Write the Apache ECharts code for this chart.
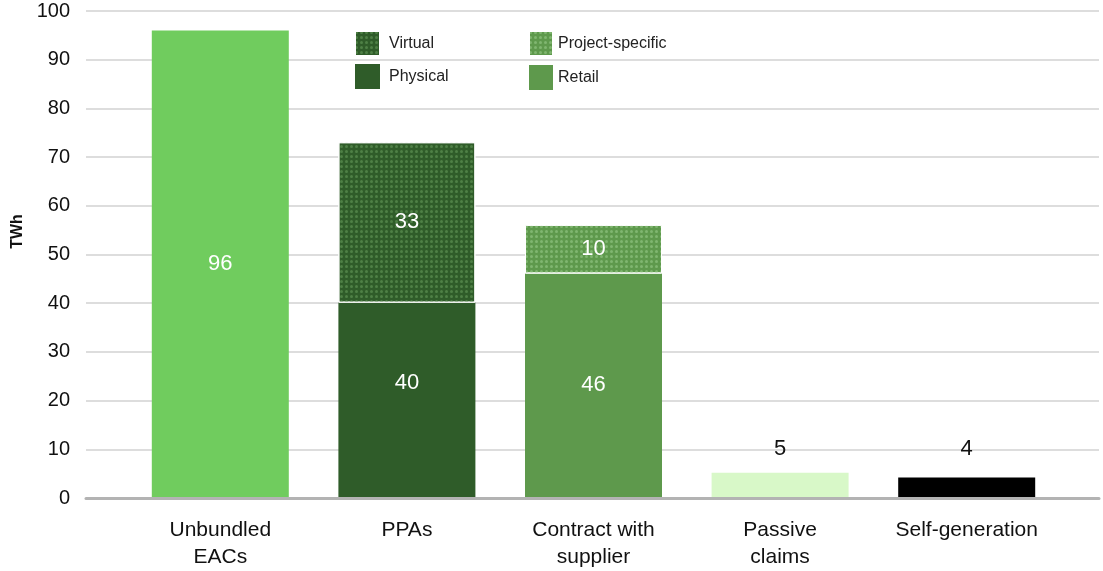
<!DOCTYPE html>
<html>
<head>
<meta charset="utf-8">
<script src="https://cdn.jsdelivr.net/npm/echarts@6/dist/echarts.min.js"></script>
<style>
  html, body { margin: 0; padding: 0; background: #fff; }
  #chart { width: 1103px; height: 571px; }
</style>
</head>
<body>
<div id="chart"></div>
<script>
// Categories and values (TWh)
const categories = ['Unbundled\nEACs', 'PPAs', 'Contract with\nsupplier', 'Passive\nclaims', 'Self-generation'];
const singleValues = [96, '-', '-', 5, 4];
const physical = ['-', 40, '-', '-', '-'];
const virtualPPA = ['-', 33, '-', '-', '-'];
const retail = ['-', '-', 46, '-', '-'];
const projectSpecific = ['-', '-', 10, '-', '-'];
const yTicks = { min: 0, max: 100, interval: 10 };

const FONT = '"Liberation Sans", Arial, sans-serif';
const singleColors = ['#70cc5e', null, null, '#d8f8c8', '#000000'];

// dotted fill used for the Virtual and Project-specific segments
const dots = (color) => ({
  symbol: 'circle',
  symbolSize: 1,
  color: color,
  dashArrayX: [3, 2],
  dashArrayY: [3, 2],
  rotation: 0
});

const insideLabel = {
  show: true,
  position: 'inside',
  color: '#ffffff',
  fontFamily: FONT,
  fontSize: 22
};

const singleData = singleValues.map((v, i) => {
  if (v === '-') return v;
  const item = { value: v, itemStyle: { color: singleColors[i] } };
  if (i === 0) {
    item.label = Object.assign({}, insideLabel);
  } else {
    item.label = {
      show: true, position: 'top', color: '#111', fontFamily: FONT, fontSize: 22,
      distance: i === 3 ? 13 : 18
    };
  }
  return item;
});

const chart = echarts.init(document.getElementById('chart'), null, { renderer: 'canvas' });

const legendText = { fontFamily: FONT, fontSize: 16, color: '#222' };

chart.setOption({
  animation: false,
  backgroundColor: '#ffffff',
  grid: [
    { left: 86, right: 4, top: 11, bottom: 73 },
    { left: 127, right: 43, top: 11, bottom: 73 }
  ],
  legend: [
    {
      left: 354, top: 30, orient: 'vertical', padding: 0,
      icon: 'rect', itemWidth: 25, itemHeight: 25, itemGap: 7,
      selectedMode: false,
      data: [
        { name: 'Virtual' },
        { name: 'Physical', textStyle: { padding: [12, 0, 0, 4] } }
      ],
      textStyle: Object.assign({ padding: [0, 0, 0, 4] }, legendText)
    },
    {
      left: 528, top: 30, orient: 'vertical', padding: 0,
      icon: 'rect', itemWidth: 24, itemHeight: 25, itemGap: 8,
      selectedMode: false,
      data: ['Project-specific', 'Retail'],
      textStyle: legendText
    }
  ],
  xAxis: [
    {
      gridIndex: 0, type: 'value', min: 0, max: 1,
      axisLine: { show: true, onZero: true, lineStyle: { color: '#b3b3b3', width: 3 } },
      axisTick: { show: false }, axisLabel: { show: false }, splitLine: { show: false }
    },
    {
      gridIndex: 1, type: 'category', data: categories,
      axisLine: { show: false }, axisTick: { show: false },
      axisLabel: {
        color: '#111', fontFamily: FONT, fontSize: 21, lineHeight: 27, margin: 20,
        interval: 0
      }
    }
  ],
  yAxis: [
    {
      gridIndex: 0, type: 'value', min: yTicks.min, max: yTicks.max, interval: yTicks.interval,
      name: 'TWh', nameLocation: 'middle', nameGap: 48,
      nameTextStyle: {
        fontFamily: FONT, fontSize: 16, fontWeight: 'bold', color: '#111',
        padding: [0, 0, 0, 46]
      },
      axisLine: { show: false }, axisTick: { show: false },
      axisLabel: { color: '#111', fontFamily: FONT, fontSize: 20, margin: 16 },
      splitLine: { lineStyle: { color: '#dddddd', width: 2 } }
    },
    {
      gridIndex: 1, type: 'value', min: yTicks.min, max: yTicks.max, interval: yTicks.interval,
      show: false, splitLine: { show: false }
    }
  ],
  series: [
    {
      name: 'Total', type: 'bar', stack: 'a', xAxisIndex: 1, yAxisIndex: 1,
      barWidth: 137, data: singleData
    },
    {
      name: 'Physical', type: 'bar', stack: 'a', xAxisIndex: 1, yAxisIndex: 1,
      barWidth: 137, data: physical,
      itemStyle: { color: '#2f5c29' },
      label: Object.assign({}, insideLabel, { offset: [0, -17] })
    },
    {
      name: 'Retail', type: 'bar', stack: 'a', xAxisIndex: 1, yAxisIndex: 1,
      barWidth: 137, data: retail,
      itemStyle: { color: '#5e994c' },
      label: insideLabel
    },
    {
      name: 'Virtual', type: 'bar', stack: 'a', xAxisIndex: 1, yAxisIndex: 1,
      barWidth: 137, data: virtualPPA,
      itemStyle: { color: '#2f5c29', borderColor: '#ffffff', borderWidth: 1, decal: dots('#4f8046') },
      label: insideLabel
    },
    {
      name: 'Project-specific', type: 'bar', stack: 'a', xAxisIndex: 1, yAxisIndex: 1,
      barWidth: 137, data: projectSpecific,
      itemStyle: { color: '#5e994c', borderColor: '#ffffff', borderWidth: 1, decal: dots('#80b670') },
      label: insideLabel
    }
  ]
});
</script>
</body>
</html>
